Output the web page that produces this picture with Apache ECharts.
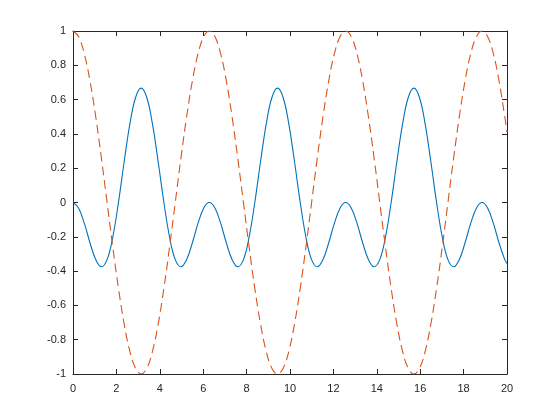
<!DOCTYPE html>
<html>
<head>
<meta charset="utf-8">
<script src="https://cdn.jsdelivr.net/npm/echarts@6/dist/echarts.min.js"></script>
<style>
html,body{margin:0;padding:0;background:#fff;}
#main{width:560px;height:420px;}
</style>
</head>
<body>
<div id="main"></div>
<script>
// x positions of the samples
var xValues = [0,0.2618,0.5236,0.7854,1.0472,1.309,1.5708,1.8326,2.0944,2.3562,2.618,2.8798,
  3.1416,3.4034,3.6652,3.927,4.1888,4.4506,4.7124,4.9742,5.236,5.4978,5.7596,6.0214,
  6.2832,6.545,6.8068,7.0686,7.3304,7.5922,7.854,8.1158,8.3776,8.6394,8.9012,9.163,
  9.4248,9.6866,9.9484,10.2102,10.472,10.7338,10.9956,11.2574,11.5192,11.781,12.0428,12.3046,
  12.5664,12.8282,13.09,13.3518,13.6136,13.8754,14.1372,14.399,14.6608,14.9226,15.1844,15.4462,
  15.708,15.9698,16.2316,16.4934,16.7552,17.017,17.2788,17.5406,17.8024,18.0642,18.326,18.5878,
  18.8496,19.1114,19.3732,19.635,19.8968,20];

// solid blue series
var blueValues = [0,-0.033,-0.122,-0.236,-0.333,-0.375,-0.333,-0.202,0,0.236,0.455,0.611,
  0.667,0.611,0.455,0.236,0,-0.202,-0.333,-0.375,-0.333,-0.236,-0.122,-0.033,
  0,-0.033,-0.122,-0.236,-0.333,-0.375,-0.333,-0.202,0,0.236,0.455,0.611,
  0.667,0.611,0.455,0.236,0,-0.202,-0.333,-0.375,-0.333,-0.236,-0.122,-0.033,
  0,-0.033,-0.122,-0.236,-0.333,-0.375,-0.333,-0.202,0,0.236,0.455,0.611,
  0.667,0.611,0.455,0.236,0,-0.202,-0.333,-0.375,-0.333,-0.236,-0.122,-0.033,
  0,-0.033,-0.122,-0.236,-0.333,-0.355];

// dashed red series
var redValues = [1,0.966,0.866,0.707,0.5,0.259,0,-0.259,-0.5,-0.707,-0.866,-0.966,
  -1,-0.966,-0.866,-0.707,-0.5,-0.259,0,0.259,0.5,0.707,0.866,0.966,
  1,0.966,0.866,0.707,0.5,0.259,0,-0.259,-0.5,-0.707,-0.866,-0.966,
  -1,-0.966,-0.866,-0.707,-0.5,-0.259,0,0.259,0.5,0.707,0.866,0.966,
  1,0.966,0.866,0.707,0.5,0.259,0,-0.259,-0.5,-0.707,-0.866,-0.966,
  -1,-0.966,-0.866,-0.707,-0.5,-0.259,0,0.259,0.5,0.707,0.866,0.966,
  1,0.966,0.866,0.707,0.5,0.41];

var xTicks = {min: 0, max: 20, interval: 2};
var yTicks = {min: -1, max: 1, interval: 0.2};

var axisColor = '#262626';
function fmtY(v){ var r = Math.round(v*10)/10; return String(r === 0 ? 0 : r); }

var chart = echarts.init(document.getElementById('main'), null, {renderer: 'canvas'});
var lineStyleAxis = {color: axisColor, width: 1};
chart.setOption({
  animation: false,
  backgroundColor: '#ffffff',
  grid: {left: 73, right: 53, top: 31, bottom: 46, containLabel: false},
  xAxis: [{
    type: 'value', min: xTicks.min, max: xTicks.max, interval: xTicks.interval,
    position: 'bottom',
    axisLine: {show: true, onZero: false, lineStyle: lineStyleAxis},
    axisTick: {show: true, inside: true, length: 5, lineStyle: lineStyleAxis},
    axisLabel: {color: axisColor, fontSize: 11, fontFamily: 'Liberation Sans, Arial, sans-serif', margin: 9},
    splitLine: {show: false}
  },{
    type: 'value', min: xTicks.min, max: xTicks.max, interval: xTicks.interval,
    position: 'top',
    axisLine: {show: true, onZero: false, lineStyle: lineStyleAxis},
    axisTick: {show: true, inside: true, length: 5, lineStyle: lineStyleAxis},
    axisLabel: {show: false},
    splitLine: {show: false}
  }],
  yAxis: [{
    type: 'value', min: yTicks.min, max: yTicks.max, interval: yTicks.interval,
    position: 'left',
    axisLine: {show: true, onZero: false, lineStyle: lineStyleAxis},
    axisTick: {show: true, inside: true, length: 5, lineStyle: lineStyleAxis},
    axisLabel: {color: axisColor, fontSize: 11, fontFamily: 'Liberation Sans, Arial, sans-serif', margin: 7, formatter: fmtY},
    splitLine: {show: false}
  },{
    type: 'value', min: yTicks.min, max: yTicks.max, interval: yTicks.interval,
    position: 'right',
    axisLine: {show: true, onZero: false, lineStyle: lineStyleAxis},
    axisTick: {show: true, inside: true, length: 5, lineStyle: lineStyleAxis},
    axisLabel: {show: false},
    splitLine: {show: false}
  }],
  series: [{
    type: 'line', xAxisIndex: 0, yAxisIndex: 0,
    data: xValues.map(function(x, i){ return [x, blueValues[i]]; }),
    showSymbol: false, symbol: 'none', smooth: 0.4,
    lineStyle: {color: '#0072BD', width: 1.1}
  },{
    type: 'line', xAxisIndex: 0, yAxisIndex: 0,
    data: xValues.map(function(x, i){ return [x, redValues[i]]; }),
    showSymbol: false, symbol: 'none', smooth: 0.4,
    lineStyle: {color: '#D95319', width: 1.1, type: [9, 5]}
  }]
});
</script>
</body>
</html>
